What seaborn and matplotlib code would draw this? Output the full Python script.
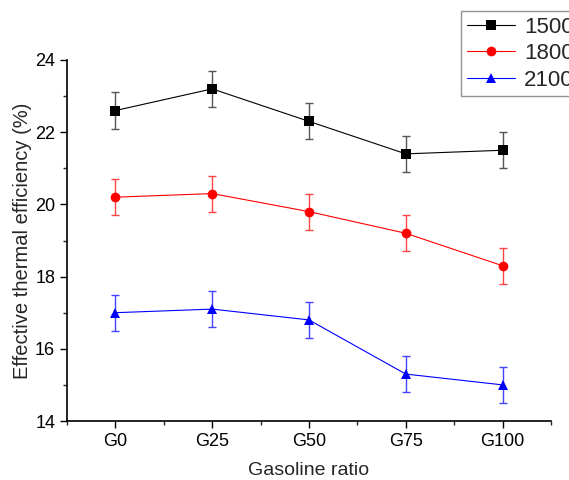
import matplotlib
matplotlib.use("Agg")
import matplotlib.pyplot as plt
import seaborn as sns
import pandas as pd
from matplotlib.ticker import MultipleLocator, FixedLocator
from matplotlib.lines import Line2D

categories = ["G0", "G25", "G50", "G75", "G100"]
s1500 = [22.6, 23.2, 22.3, 21.4, 21.5]
s1800 = [20.2, 20.3, 19.8, 19.2, 18.3]
s2100 = [17.0, 17.1, 16.8, 15.3, 15.0]
err1500 = [0.5, 0.5, 0.5, 0.5, 0.5]
err1800 = [0.5, 0.5, 0.5, 0.5, 0.5]
err2100 = [0.5, 0.5, 0.5, 0.5, 0.5]
series_names = ["1500", "1800", "2100"]

sns.set_style("ticks")
plt.rcParams['font.family'] = ['Liberation Sans', 'DejaVu Sans']

rows = []
for name, vals in zip(series_names, [s1500, s1800, s2100]):
    for i, v in enumerate(vals):
        rows.append({"x": i, "cat": categories[i], "val": v, "series": name})
df = pd.DataFrame(rows)

fig = plt.figure(figsize=(5.69, 4.8), dpi=100)
ax = fig.add_axes([67/569, 1-421/480, (551-67)/569, (421-60)/480])

colors = {"1500": "black", "1800": "red", "2100": "blue"}
markers = {"1500": "s", "1800": "o", "2100": "^"}
ecolors = {"1500": "#555555", "1800": "#ff4444", "2100": "#4444ff"}
msize = {"1500": 6.5, "1800": 7, "2100": 7.5}

sns.lineplot(data=df, x="x", y="val", hue="series", style="series",
             palette=colors, markers=markers, dashes=False, linewidth=0.8,
             markersize=7, markeredgewidth=0, ax=ax, legend=False)

for name, vals, errs in zip(series_names, [s1500, s1800, s2100], [err1500, err1800, err2100]):
    ax.errorbar(range(len(vals)), vals, yerr=errs, fmt='none', ecolor=ecolors[name],
                elinewidth=1, capsize=3, capthick=1, zorder=1)

ax.set_xlim(-0.5, 4.5)
ax.set_ylim(14, 24)
ax.xaxis.set_major_locator(FixedLocator(range(5)))
ax.set_xticklabels(categories)
ax.xaxis.set_minor_locator(FixedLocator([-0.5, 0.5, 1.5, 2.5, 3.5, 4.5]))
ax.yaxis.set_major_locator(MultipleLocator(2))
ax.yaxis.set_minor_locator(MultipleLocator(1))
ax.tick_params(which='major', direction='out', length=5, width=1, labelsize=13, colors='black')
ax.tick_params(which='minor', direction='out', length=3, width=1)
for s in ["left", "bottom"]:
    ax.spines[s].set_linewidth(1.2)
    ax.spines[s].set_color("black")
sns.despine(ax=ax)

ax.set_xlabel("Gasoline ratio", fontsize=14, labelpad=9)
ax.set_ylabel("Effective thermal efficiency (%)", fontsize=14.5, labelpad=2)

handles = [Line2D([], [], color=colors[n], marker=markers[n], markersize=7,
                  markeredgewidth=0, linewidth=0.8) for n in series_names]
leg = fig.legend(handles, series_names, loc='upper left',
                 bbox_to_anchor=(461/569, 1-11/480), fontsize=16, frameon=True,
                 fancybox=False, edgecolor='#777777', handlelength=2.2,
                 borderpad=0.25, labelspacing=0.25, handletextpad=0.4,
                 borderaxespad=0)
leg.get_frame().set_linewidth(1)

fig.savefig("out.png", dpi=100)
